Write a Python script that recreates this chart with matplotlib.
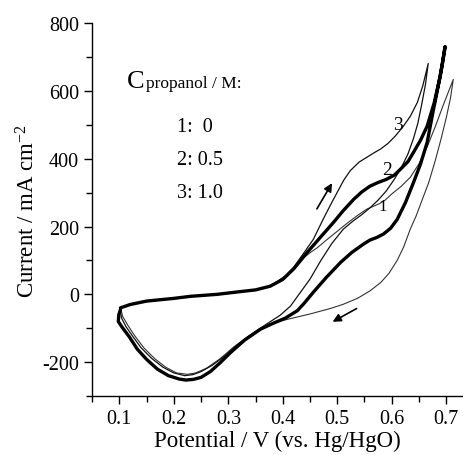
import matplotlib
matplotlib.use("Agg")
import matplotlib.pyplot as plt
from matplotlib.ticker import MultipleLocator

plt.rcParams['font.family'] = ['Liberation Serif', 'DejaVu Serif']
plt.rcParams['mathtext.default'] = 'regular'

# shared start of every forward sweep (V, mA cm-2)
base_v = [0.102, 0.12, 0.15, 0.20, 0.23, 0.28, 0.322, 0.35, 0.377]
base_i = [-40, -30, -20, -12, -6, 0, 8, 13, 24]

# 1: 0 M propanol
c1_fwd_v = [0.40, 0.42, 0.44, 0.452, 0.463, 0.48, 0.50, 0.52, 0.54, 0.555, 0.567,
            0.578, 0.588, 0.60, 0.617, 0.634, 0.65, 0.665, 0.68, 0.695, 0.713]
c1_fwd_i = [44, 75, 110, 125, 137, 160, 186, 212, 236, 252, 260,
            268, 278, 296, 318, 345, 385, 435, 495, 560, 634]
c1_rev_v = [0.708, 0.70, 0.69, 0.68, 0.668, 0.655, 0.645, 0.634, 0.622, 0.61, 0.595,
            0.58, 0.56, 0.537, 0.51, 0.487, 0.45, 0.408, 0.385, 0.364, 0.34, 0.31,
            0.285, 0.26, 0.24, 0.225, 0.205, 0.185, 0.165, 0.145, 0.128, 0.115,
            0.106, 0.103]
c1_rev_i = [580, 520, 455, 395, 330, 275, 232, 192, 140, 100, 62,
            35, 10, -12, -30, -42, -58, -74, -84, -96, -120, -155,
            -190, -218, -232, -236, -232, -215, -190, -158, -122, -90,
            -65, -45]

# 2: 0.5 M propanol
c2_fwd_v = [0.40, 0.42, 0.445, 0.47, 0.493, 0.51, 0.53, 0.545, 0.56, 0.575, 0.59,
            0.605, 0.616, 0.63, 0.64, 0.653, 0.665, 0.678, 0.689, 0.698]
c2_fwd_i = [44, 75, 124, 170, 212, 245, 280, 302, 319, 330, 339,
            352, 369, 392, 419, 455, 496, 565, 643, 731]
c2_rev_v = [0.693, 0.686, 0.676, 0.665, 0.653, 0.64, 0.625, 0.61, 0.598, 0.585,
            0.573, 0.56, 0.548, 0.527, 0.506, 0.48, 0.456, 0.44, 0.427, 0.405,
            0.383, 0.359, 0.33, 0.304, 0.285, 0.267, 0.25, 0.236, 0.222, 0.21,
            0.19, 0.17, 0.15, 0.133, 0.118, 0.105, 0.098, 0.099, 0.102]
c2_rev_i = [680, 620, 540, 448, 385, 330, 270, 221, 195, 178,
            168, 160, 148, 124, 94, 50, 6, -25, -48, -70,
            -85, -103, -135, -172, -202, -228, -245, -251, -253, -250,
            -240, -221, -192, -162, -125, -97, -80, -60, -45]

# 3: 1.0 M propanol
c3_fwd_v = [0.39, 0.405, 0.42, 0.44, 0.456, 0.474, 0.487, 0.50, 0.512, 0.524, 0.54,
            0.555, 0.568, 0.579, 0.593, 0.606, 0.62, 0.634, 0.647, 0.657, 0.667]
c3_fwd_i = [38, 55, 80, 125, 162, 221, 262, 301, 337, 365, 390,
            405, 418, 428, 445, 466, 493, 525, 566, 615, 681]
c3_rev_v = [0.662, 0.655, 0.648, 0.64, 0.63, 0.618, 0.605, 0.59, 0.575, 0.56,
            0.545, 0.528, 0.511, 0.49, 0.47, 0.45, 0.432, 0.414, 0.395, 0.37,
            0.345, 0.32, 0.295, 0.27, 0.25, 0.235, 0.22, 0.20, 0.18, 0.16,
            0.14, 0.125, 0.112, 0.104, 0.102]
c3_rev_i = [620, 560, 505, 460, 415, 375, 340, 305, 278, 255,
            235, 215, 192, 150, 100, 45, 5, -35, -62, -88,
            -115, -145, -180, -210, -228, -237, -240, -232, -215, -190,
            -158, -125, -95, -70, -50]

tick_v = [0.1, 0.2, 0.3, 0.4, 0.5, 0.6, 0.7]
tick_i = [-200, 0, 200, 400, 600, 800]
legend_lines = ["1:  0", "2: 0.5", "3: 1.0"]

fig = plt.figure(figsize=(4.63, 4.56), dpi=100)
ax = fig.add_axes([0.199, 0.1294, 0.80, 0.8176])

curves = [
    (c1_fwd_v, c1_fwd_i, c1_rev_v, c1_rev_i, 0.8, '#333333'),
    (c3_fwd_v, c3_fwd_i, c3_rev_v, c3_rev_i, 0.9, '#111111'),
    (c2_fwd_v, c2_fwd_i, c2_rev_v, c2_rev_i, 2.4, 'black'),
]
for fv, fi, rv, ri, lw, col in curves:
    v = base_v + fv + rv
    i = base_i + fi + ri
    ax.plot(v, i, color=col, lw=lw, solid_joinstyle='round', solid_capstyle='round')

ax.set_xlim(0.05, 0.73)
ax.set_ylim(-300, 800)
ax.set_xticks(tick_v)
ax.set_yticks(tick_i)
ax.set_xticklabels([f"{t:.1f}" for t in tick_v])
ax.set_yticklabels([str(t) for t in tick_i])
ax.xaxis.set_minor_locator(MultipleLocator(0.05))
ax.yaxis.set_minor_locator(MultipleLocator(100))
ax.tick_params(which='major', direction='out', length=6, width=1, labelsize=14.5)
ax.tick_params(which='minor', direction='out', length=4, width=1)
for s in ['top', 'right']:
    ax.spines[s].set_visible(False)
for s in ['left', 'bottom']:
    ax.spines[s].set_linewidth(1)

ax.set_xlabel("Potential / V (vs. Hg/HgO)", fontsize=16.5, labelpad=1)
ax.set_ylabel("Current / mA cm$^{-2}$", fontsize=16.5, labelpad=2)

# concentration legend
ax.text(0.114, 612, "C", fontsize=19, ha='left', va='baseline')
ax.text(0.148, 612, "propanol / M:", fontsize=12.5, ha='left', va='baseline')
for k, txt in enumerate(legend_lines):
    ax.text(0.205, 481 - k * 97, txt, fontsize=14.5, ha='left', va='baseline')

# curve numbers
ax.text(0.602, 487, "3", fontsize=14)
ax.text(0.582, 354, "2", fontsize=14)
ax.text(0.575, 250, "1", fontsize=12)

# sweep direction arrows
ax.annotate("", xy=(0.493, 335), xytext=(0.46, 245),
            arrowprops=dict(arrowstyle='-|>', color='black', lw=1.2, mutation_scale=12))
ax.annotate("", xy=(0.487, -85), xytext=(0.54, -38),
            arrowprops=dict(arrowstyle='-|>', color='black', lw=1.2, mutation_scale=12))

fig.savefig("out.png", dpi=100)
